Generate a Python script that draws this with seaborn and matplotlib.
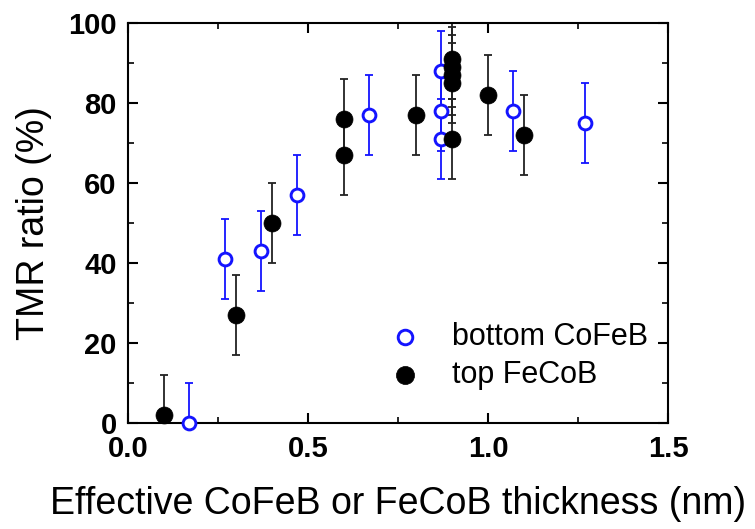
import matplotlib
matplotlib.use("Agg")
import matplotlib.pyplot as plt
from matplotlib.ticker import MultipleLocator
import seaborn as sns
import pandas as pd

# bottom CoFeB (blue open circles)
bottom_x = [0.17, 0.27, 0.37, 0.47, 0.67, 0.87, 0.87, 0.87, 1.07, 1.27]
bottom_y = [0, 41, 43, 57, 77, 88, 78, 71, 78, 75]
bottom_err = [10, 10, 10, 10, 10, 10, 10, 10, 10, 10]

# top FeCoB (black filled circles)
top_x = [0.10, 0.30, 0.40, 0.60, 0.60, 0.80, 0.90, 0.90, 0.90, 0.90, 0.90, 1.00, 1.10]
top_y = [2, 27, 50, 76, 67, 77, 71, 85, 87, 89, 91, 82, 72]
top_err = [10, 10, 10, 10, 10, 10, 10, 10, 10, 10, 10, 10, 10]

labels = ["bottom CoFeB", "top FeCoB"]
xlabel = "Effective CoFeB or FeCoB thickness (nm)"
ylabel = "TMR ratio (%)"

sns.set_theme(style="ticks")
plt.rcParams['font.family'] = ['Liberation Sans', 'DejaVu Sans']
plt.rcParams['text.color'] = 'black'
plt.rcParams['axes.labelcolor'] = 'black'
plt.rcParams['xtick.color'] = 'black'
plt.rcParams['ytick.color'] = 'black'

fig = plt.figure(figsize=(7.55, 5.29), dpi=100)
ax = fig.add_axes([0.1695, 0.2004, 0.7152, 0.7561])

df_b = pd.DataFrame({"x": bottom_x, "y": bottom_y, "e": bottom_err})
df_t = pd.DataFrame({"x": top_x, "y": top_y, "e": top_err})

blue = "#1414ff"
ax.errorbar(df_b.x, df_b.y, yerr=df_b.e, fmt="none", ecolor=blue, elinewidth=1.3,
            capsize=3, capthick=1.3, zorder=2)
ax.errorbar(df_t.x, df_t.y, yerr=df_t.e, fmt="none", ecolor="#222222", elinewidth=1.3,
            capsize=2.6, capthick=1.3, zorder=2)

sns.scatterplot(data=df_b, x="x", y="y", ax=ax, marker="o", s=85,
                facecolor="white", edgecolor=blue, linewidth=2.1, zorder=3,
                label=labels[0], clip_on=False)
sns.scatterplot(data=df_t, x="x", y="y", ax=ax, marker="o", s=150,
                color="black", edgecolor="black", linewidth=0.5, zorder=4,
                label=labels[1], clip_on=False)

ax.set_xlim(0, 1.5)
ax.set_ylim(0, 100)
ax.xaxis.set_minor_locator(MultipleLocator(0.25))
ax.yaxis.set_major_locator(MultipleLocator(20))
ax.yaxis.set_minor_locator(MultipleLocator(10))
ax.set_xticks([0, 0.5, 1.0, 1.5])
ax.set_xticklabels(["0.0", "0.5", "1.0", "1.5"])
ax.tick_params(which="both", direction="in", top=True, right=True, color="black",
               labelcolor="black")
ax.tick_params(which="major", length=7, width=1.5, labelsize=21)
ax.tick_params(axis="x", which="major", pad=9)
ax.tick_params(axis="y", which="major", pad=8)
ax.tick_params(which="minor", length=4, width=1.2)
for lab in ax.get_xticklabels() + ax.get_yticklabels():
    lab.set_fontweight("bold")
for sp in ax.spines.values():
    sp.set_linewidth(1.5)
    sp.set_color("black")

ax.set_xlabel(xlabel, fontsize=27, labelpad=16, color="black")
ax.set_ylabel(ylabel, fontsize=27, labelpad=12, color="black")

leg = ax.legend(loc="upper left", bbox_to_anchor=(0.406, 0.32), frameon=False,
                fontsize=22, handlelength=2.0, handletextpad=0.54, labelspacing=0.25)
leg.legend_handles[0].set_sizes([110])
leg.legend_handles[1].set_sizes([170])
for t in leg.get_texts():
    t.set_color("black")

fig.savefig("out.png", dpi=100)
